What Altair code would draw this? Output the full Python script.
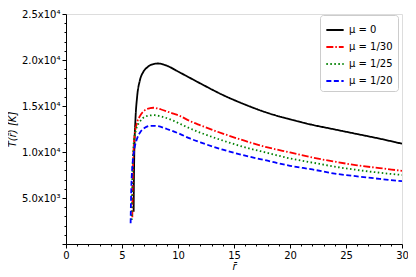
import altair as alt
import pandas as pd

series = ["μ = 0", "μ = 1/30", "μ = 1/25", "μ = 1/20"]
colors = ["#000000", "#ff0000", "#008000", "#0000ff"]
dashes = [[1, 0], [7, 2, 1.5, 2], [1.5, 2.5], [5, 2.5]]

r_mu0 = [6.04, 6.06, 6.1, 6.2, 6.35, 6.6, 6.9, 7.3, 7.8, 8.2, 9, 10, 11, 12, 14, 16, 18, 20, 22, 24, 26, 28, 30]
T_mu0 = [3500, 6500, 10000, 13500, 16000, 17800, 18700, 19250, 19560, 19620, 19380, 18750, 18100, 17450, 16200, 15150, 14250, 13550, 12950, 12450, 11950, 11450, 10900]

r_mu30 = [5.92, 5.95, 6.0, 6.1, 6.3, 6.6, 7.0, 7.5, 7.8, 8.5, 9.5, 10.2, 11, 12, 14, 16, 18, 20, 22, 24, 26, 28, 30]
T_mu30 = [2900, 6000, 9000, 11500, 13000, 13900, 14500, 14760, 14810, 14620, 14200, 13900, 13400, 12900, 12000, 11200, 10500, 9950, 9400, 8950, 8550, 8250, 7950]

r_mu25 = [5.87, 5.9, 5.95, 6.05, 6.25, 6.6, 7.0, 7.5, 7.9, 8.5, 9.5, 10.2, 11, 12, 14, 16, 18, 20, 22, 24, 26, 28, 30]
T_mu25 = [2600, 5500, 8500, 11000, 12400, 13300, 13800, 13970, 14000, 13860, 13450, 13050, 12600, 12100, 11250, 10500, 9900, 9300, 8850, 8400, 8050, 7750, 7500]

r_mu20 = [5.77, 5.8, 5.84, 5.95, 6.1, 6.3, 6.6, 7.0, 7.6, 8.2, 9.0, 10.2, 11, 12, 14, 16, 18, 20, 22, 24, 26, 28, 30]
T_mu20 = [2250, 4500, 6400, 8800, 10300, 11300, 12100, 12600, 12850, 12810, 12500, 11950, 11500, 11050, 10250, 9600, 9050, 8500, 8100, 7650, 7350, 7080, 6830]

x_ticks = list(range(0, 31))
y_ticks = list(range(0, 25001, 1000))

rows = []
for name, rs, ts in zip(series, [r_mu0, r_mu30, r_mu25, r_mu20], [T_mu0, T_mu30, T_mu25, T_mu20]):
    for i, (r, t) in enumerate(zip(rs, ts)):
        rows.append({"series": name, "r": r, "T": t, "order": i})
df = pd.DataFrame(rows)

font = "DejaVu Sans"

y_label_expr = (
    "datum.value == 25000 ? '2.5x10⁴' : datum.value == 20000 ? '2.0x10⁴' : "
    "datum.value == 15000 ? '1.5x10⁴' : datum.value == 10000 ? '1.0x10⁴' : "
    "datum.value == 5000 ? '5.0x10³' : ''"
)

chart = alt.Chart(df).mark_line(strokeWidth=1.8, clip=True, interpolate="monotone").encode(
    x=alt.X("r:Q", scale=alt.Scale(domain=[0, 30], nice=False),
            axis=alt.Axis(title="r̄", values=x_ticks, grid=False,
                          labelExpr="datum.value % 5 == 0 ? datum.label : ''",
                          tickSize={"condition": {"test": "datum.value % 5 == 0", "value": 4}, "value": 2},
                          domainColor="black", tickColor="black", labelColor="black",
                          labelFont=font, labelFontSize=10, titleFont=font, titleFontSize=10,
                          titleFontWeight="normal", titleFontStyle="italic", titlePadding=1,
                          labelPadding=2, labelFlush=False)),
    y=alt.Y("T:Q", scale=alt.Scale(domain=[0, 25000], nice=False),
            axis=alt.Axis(title="T(r̄) [K]", values=y_ticks, grid=False,
                          labelExpr=y_label_expr,
                          tickSize={"condition": {"test": "datum.value % 5000 == 0", "value": 4}, "value": 2},
                          domainColor="black", tickColor="black", labelColor="black",
                          labelFont=font, labelFontSize=10, titleFont=font, titleFontSize=10,
                          titleFontWeight="normal", titleFontStyle="italic", titlePadding=4,
                          labelPadding=2)),
    color=alt.Color("series:N", scale=alt.Scale(domain=series, range=colors),
                    legend=alt.Legend(title=None, orient="none", legendX=254, legendY=1,
                                      symbolType="stroke", symbolSize=300, symbolStrokeWidth=1.8,
                                      labelFont=font, labelFontSize=10, labelColor="black",
                                      strokeColor="#cccccc", fillColor="white", cornerRadius=3,
                                      padding=5, rowPadding=2, labelLimit=200)),
    strokeDash=alt.StrokeDash("series:N", scale=alt.Scale(domain=series, range=dashes), legend=None),
    detail="series:N",
    order="order:Q",
).properties(
    width=336, height=230,
    autosize=alt.AutoSizeParams(type="none"),
    padding={"left": 58, "top": 6, "right": 6, "bottom": 31},
).configure_view(stroke="black", strokeWidth=1).configure(background="white")

chart.save("out.html", embed_options={"renderer": "svg", "actions": False})
